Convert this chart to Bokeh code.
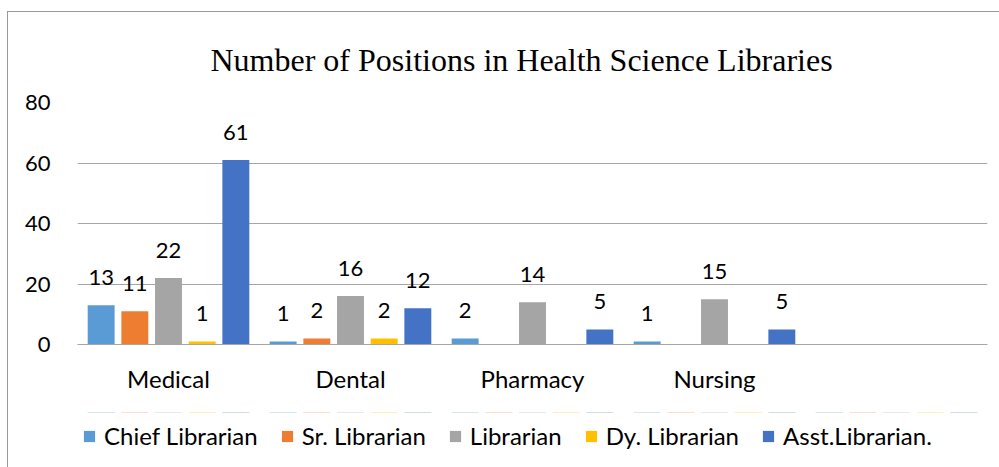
from bokeh.plotting import figure
from bokeh.models import ColumnDataSource, Legend, LegendItem, FactorRange, Range1d
from bokeh.layouts import column
from bokeh.transform import dodge
from bokeh.core.properties import value
from bokeh.embed import file_html
from bokeh.resources import INLINE

categories = ["Medical", "Dental", "Pharmacy", "Nursing", " "]
series = ["Chief Librarian", "Sr. Librarian", "Librarian", "Dy. Librarian", "Asst.Librarian."]
chief = [13, 1, 2, 1, 0]
senior = [11, 2, 0, 0, 0]
librarian = [22, 16, 14, 15, 0]
deputy = [1, 2, 0, 0, 0]
assistant = [61, 12, 5, 5, 0]
colors = ["#5B9BD5", "#ED7D31", "#A5A5A5", "#FFC000", "#4472C4"]
offsets = [-0.37, -0.185, 0.0, 0.185, 0.37]
y_ticks = [0, 20, 40, 60, 80]

values = [chief, senior, librarian, deputy, assistant]
keys = ["chief", "senior", "librarian", "deputy", "assistant"]

data = {"cat": categories}
for k, v in zip(keys, values):
    data[k] = v
    data[k + "_lbl"] = [str(x) if x else "" for x in v]
source = ColumnDataSource(data)

FONT = "Lato"
GRID = "#A6A6A6"

p = figure(x_range=FactorRange(*categories), y_range=(0, 80),
           width=991, height=400, output_backend="svg", toolbar_location=None,
           min_border_left=69, min_border_right=12, min_border_top=90, min_border_bottom=68)
p.x_range.range_padding = 0
p.outline_line_color = None
p.background_fill_color = "white"
p.border_fill_color = "white"

p.title.text = "Number of Positions in Health Science Libraries"
p.title.text_font = "Liberation Serif"
p.title.text_font_size = "32px"
p.title.text_font_style = "normal"
p.title.text_color = "#000000"
p.title.align = "left"
p.title.offset = 133
p.title.standoff = 49

for k, c, off in zip(keys, colors, offsets):
    p.vbar(x=dodge("cat", off, range=p.x_range), top=k, width=0.148, source=source,
           fill_color=c, line_color=None)
    p.text(x=dodge("cat", off, range=p.x_range), y=k, text=k + "_lbl", source=source,
           text_align="center", text_baseline="bottom", y_offset=-20,
           text_font=value(FONT), text_font_size="22px", text_color="#000000")

p.xgrid.grid_line_color = None
p.ygrid.grid_line_color = GRID
p.ygrid.grid_line_width = 1
p.yaxis.ticker = y_ticks
p.yaxis.axis_line_color = None
p.yaxis.major_tick_line_color = None
p.yaxis.minor_tick_line_color = None
p.yaxis.major_label_text_font = FONT
p.yaxis.major_label_text_font_size = "22px"
p.yaxis.major_label_text_color = "#000000"
p.yaxis.major_label_standoff = 21

p.xaxis.axis_line_color = GRID
p.xaxis.major_tick_line_color = None
p.xaxis.minor_tick_line_color = None
p.xaxis.major_label_text_font = FONT
p.xaxis.major_label_text_font_size = "24px"
p.xaxis.major_label_text_color = "#000000"
p.xaxis.major_label_standoff = 13

# legend strip below the chart (its zero-height bars lie outside its visible range)
lg = figure(x_range=p.x_range, y_range=Range1d(-2, -1),
            width=991, height=55, output_backend="svg", toolbar_location=None,
            x_axis_location=None, y_axis_location=None,
            min_border_left=0, min_border_right=0, min_border_top=0, min_border_bottom=0)
lg.outline_line_color = None
lg.grid.grid_line_color = None
lg.border_fill_color = "white"
lg.background_fill_color = "white"
lg_renderers = [lg.vbar(x=dodge("cat", off, range=lg.x_range), top=k, bottom=k, width=0.148,
                        source=source, fill_color=c, line_color=None)
                for k, c, off in zip(keys, colors, offsets)]
legend = Legend(items=[LegendItem(label=s, renderers=[r]) for s, r in zip(series, lg_renderers)],
                orientation="horizontal", location=(5, 17),
                label_text_font=FONT, label_text_font_size="24px", label_text_color="#000000",
                glyph_width=14, glyph_height=14, label_standoff=8, spacing=22,
                padding=0, margin=0, border_line_color=None, background_fill_alpha=0)
lg.add_layout(legend, "center")

layout = column(p, lg, spacing=0)
layout.styles = {"border-left": "1px solid #9A9A9A", "border-top": "1px solid #9A9A9A",
                 "position": "relative", "left": "7px", "top": "11px"}

open("out.html", "w").write(file_html(layout, INLINE))
